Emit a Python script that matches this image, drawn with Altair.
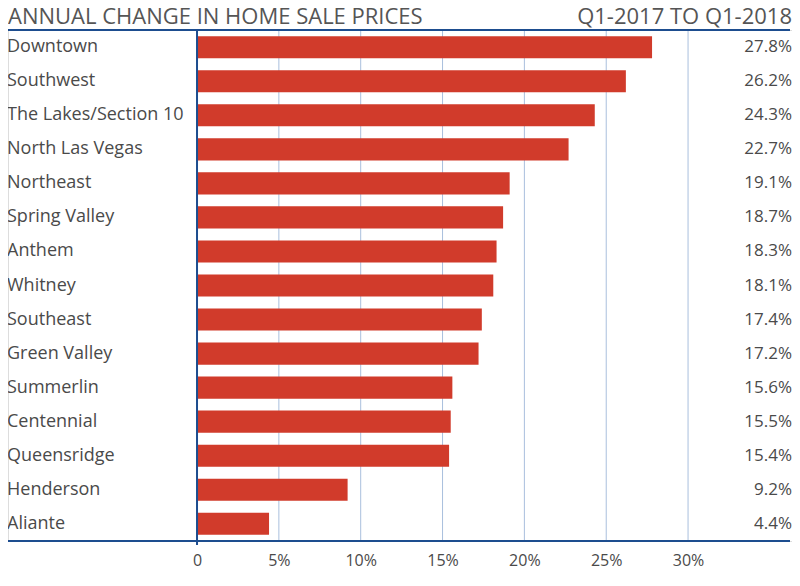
import altair as alt
import pandas as pd

regions = ["Downtown", "Southwest", "The Lakes/Section 10", "North Las Vegas", "Northeast",
           "Spring Valley", "Anthem", "Whitney", "Southeast", "Green Valley", "Summerlin",
           "Centennial", "Queensridge", "Henderson", "Aliante"]
changes = [27.8, 26.2, 24.3, 22.7, 19.1, 18.7, 18.3, 18.1, 17.4, 17.2, 15.6, 15.5, 15.4, 9.2, 4.4]
grid_values = [5, 10, 15, 20, 25, 30]
tick_values = [0, 5, 10, 15, 20, 25, 30]
title_left = "ANNUAL CHANGE IN HOME SALE PRICES"
title_right = "Q1-2017 TO Q1-2018"

W, H = 784, 511
RED = "#d13b2b"
DARK = "#1d4d8f"
LIGHT = "#a9bfdd"
TXT = "#4a4a4a"
FONT = "Open Sans"

df = pd.DataFrame({"region": regions, "change": changes,
                   "label": [f"{v:.1f}%" for v in changes]})
gdf = pd.DataFrame({"g": grid_values})

xscale = alt.Scale(domain=[-11.548, 36.35], nice=False, zero=False)
yscale = alt.Scale(domain=regions, paddingInner=0.35, paddingOuter=0.18)

xaxis = alt.Axis(values=tick_values, labelExpr="datum.value == 0 ? '0' : datum.value + '%'",
                 domain=False, ticks=False, grid=False, labelFontSize=16, labelColor=TXT,
                 labelFont=FONT, labelPadding=11, title=None)

bars = alt.Chart(df).mark_bar(color=RED).encode(
    x=alt.X("change:Q", scale=xscale, axis=xaxis),
    x2=alt.datum(0),
    y=alt.Y("region:N", scale=yscale, axis=None, sort=regions),
)

grid = alt.Chart(gdf).mark_rule(color=LIGHT, strokeWidth=1).encode(
    x=alt.X("g:Q", scale=xscale),
    y=alt.value(0), y2=alt.value(H),
)

zero = alt.Chart(gdf.head(1)).mark_rule(color=DARK, strokeWidth=2).encode(
    x=alt.X("z:Q", scale=xscale),
    y=alt.value(0), y2=alt.value(H + 4),
).transform_calculate(z="0")

hdf = pd.DataFrame({"k": [1]})
hline_top = alt.Chart(hdf).mark_rule(color=DARK, strokeWidth=2).encode(
    x=alt.value(0), x2=alt.value(W - 2), y=alt.value(0),
)
hline_bot = alt.Chart(hdf).mark_rule(color=DARK, strokeWidth=2).encode(
    x=alt.value(0), x2=alt.value(W - 2), y=alt.value(H),
)

cat_labels = alt.Chart(df).mark_text(align="left", baseline="middle", fontSize=18,
                                     font=FONT, color=TXT).encode(
    x=alt.value(-1),
    y=alt.Y("region:N", scale=yscale, sort=regions),
    text="region:N",
)

val_labels = alt.Chart(df).mark_text(align="right", baseline="middle", fontSize=17,
                                     font=FONT, color=TXT).encode(
    x=alt.value(W),
    y=alt.Y("region:N", scale=yscale, sort=regions),
    text="label:N",
)

tdf = pd.DataFrame({"t": [title_left]})
t_left = alt.Chart(tdf).mark_text(align="left", baseline="alphabetic", fontSize=22,
                                  font=FONT, color="#555555").encode(
    x=alt.value(0), y=alt.value(-6), text="t:N")
tdf2 = pd.DataFrame({"t": [title_right]})
t_right = alt.Chart(tdf2).mark_text(align="right", baseline="alphabetic", fontSize=22,
                                    font=FONT, color="#555555").encode(
    x=alt.value(W), y=alt.value(-6), text="t:N")

chart = alt.layer(grid, bars, zero, hline_top, hline_bot, cat_labels, val_labels, t_left, t_right).properties(
    width=W, height=H,
    autosize=alt.AutoSizeParams(type="none"),
    padding={"left": 0, "top": 22, "right": 0, "bottom": 45},
).configure_view(stroke=None).configure(background="white")

chart.save("out.html", embed_options={"renderer": "svg", "actions": False})
